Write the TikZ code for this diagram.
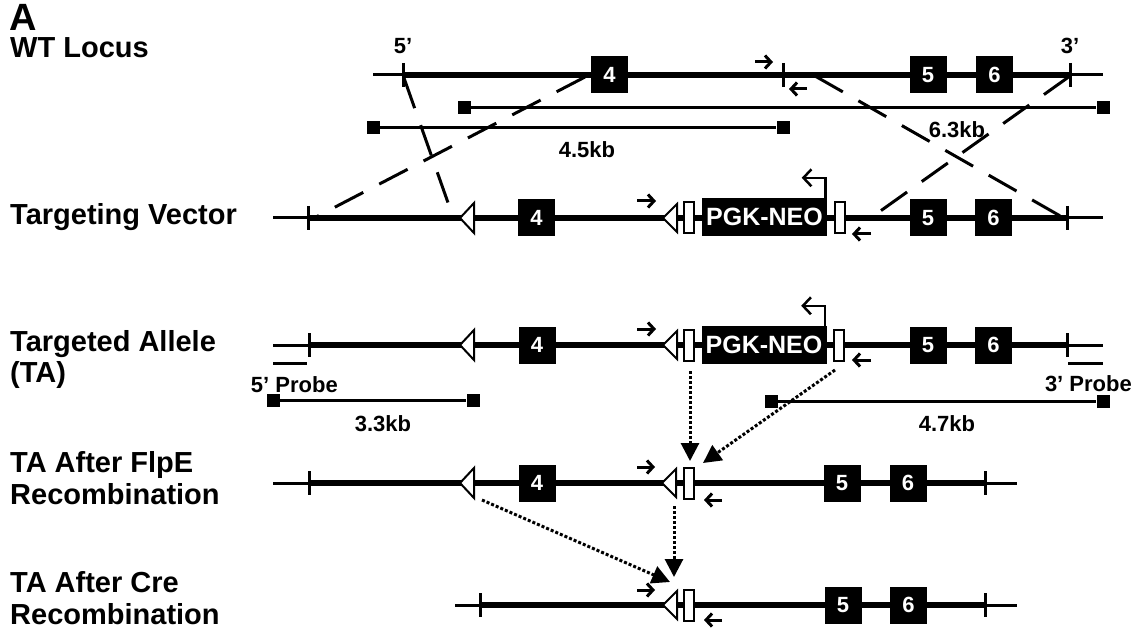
\documentclass[tikz,border=0pt]{standalone}
\usepackage{fontspec}
\setmainfont{Liberation Sans}
\usetikzlibrary{arrows.meta}
\begin{document}
\begin{tikzpicture}[x=1pt,y=-1pt,
  lbl/.style={anchor=base west,inner sep=0,font=\fontsize{29}{33}\selectfont\bfseries},
  small/.style={anchor=base,inner sep=0,font=\fontsize{22}{24}\selectfont\bfseries},
  thickdna/.style={line width=6pt},
  thindna/.style={line width=3pt},
  tickmark/.style={line width=3pt},
  exon/.style={fill=black,minimum width=37pt,minimum height=37pt,inner sep=0,text=white,font=\fontsize{22}{22}\selectfont\bfseries},
  neo/.style={fill=black,minimum width=125pt,minimum height=38pt,inner sep=0,text=white,font=\fontsize{25}{25}\selectfont\bfseries},
  frt/.style={draw,fill=white,line width=2pt,minimum width=10pt,minimum height=31pt,inner sep=0},
  lox/.style={draw,fill=white,line width=2pt,line join=miter},
  primer/.style={line width=3pt,-{Straight Barb[length=6pt,width=13pt]}},
  promoter/.style={line width=2.5pt,-{Straight Barb[length=8pt,width=17pt]}},
  sq/.style={fill=black,minimum size=13pt,inner sep=0},
  kb/.style={line width=3pt},
  probe/.style={line width=3pt},
  cross/.style={line width=3pt,dash pattern=on 32pt off 18pt},
  dotarrow/.style={line width=3pt,dash pattern=on 3pt off 2pt,-{Triangle[length=18pt,width=18pt]}},
]
\useasboundingbox (0,0) rectangle (1135,644);

% ---------- labels ----------
\node[anchor=base west,inner sep=0,font=\fontsize{38}{38}\selectfont\bfseries] (lA) at (9,31) {A};
\node[lbl] (l1) at (10,58) {WT Locus};
\node[lbl] (l2) at (10,225) {Targeting Vector};
\node[lbl] (l3a) at (10,352) {Targeted Allele};
\node[lbl] (l3b) at (10,382) {(TA)};
\node[lbl] (l4a) at (10,472) {TA After FlpE};
\node[lbl] (l4b) at (10,504) {Recombination};
\node[lbl] (l5a) at (10,592) {TA After Cre};
\node[lbl] (l5b) at (10,624) {Recombination};

% ---------- WT locus (y=75) ----------
\draw[thindna] (373,75) -- (403,75);
\draw[thickdna] (403,75) -- (1070,75);
\draw[thindna] (1070,75) -- (1103,75);
\draw[tickmark] (403,63) -- (403,87);
\draw[tickmark] (783,63) -- (783,87);
\draw[tickmark] (1070,63) -- (1070,87);
\node[small] (p5) at (403,54) {5'};
\node[small] (p3) at (1070,54) {3'};
\node[exon] (wt4) at (609.5,75) {4};
\node[exon] (wt5) at (928,75) {5};
\node[exon] (wt6) at (994.5,75) {6};
\draw[primer] (755,62) -- (773,62);
\draw[primer] (807,89) -- (789,89);

% restriction fragments
\node[sq] (f63a) at (464,108) {};
\node[sq] (f63b) at (1103,108) {};
\draw[kb] (f63a) -- (f63b);
\node[small] (t63) at (957,138) {6.3kb};
\node[sq] (f45a) at (373,128) {};
\node[sq] (f45b) at (783,128) {};
\draw[kb] (f45a) -- (f45b);
\node[small] (t45) at (587,158) {4.5kb};

% ---------- Targeting vector (y=218) ----------
\draw[thindna] (273,218) -- (308,218);
\draw[thickdna] (308,218) -- (1067,218);
\draw[thindna] (1067,218) -- (1103,218);
\draw[tickmark] (308,206) -- (308,230);
\draw[tickmark] (1067,206) -- (1067,230);
\draw[lox] (460,218) coordinate (tvL1) -- (474,203) -- (474,233) -- cycle;
\node[exon] (tv4) at (536.5,218) {4};
\draw[primer] (637,201) -- (656,201);
\draw[lox] (663,218) coordinate (tvL2) -- (677,204) -- (677,232) -- cycle;
\node[frt] (tvF1) at (689,218) {};
\node[neo] (tvneo) at (764.5,217) {PGK-NEO};
\draw[promoter] ([xshift=-1.5pt]tvneo.north east) -- ++(0,-20) -- ++(-24,0);
\node[frt] (tvF2) at (839.5,218) {};
\draw[primer] (871,234) -- (852,234);
\node[exon] (tv5) at (928,218) {5};
\node[exon] (tv6) at (993.5,218) {6};

% crossover lines
\coordinate (c1a) at (585,77);
\coordinate (c1b) at (316,217);
\coordinate (c2a) at (404,78);
\coordinate (c2b) at (452,214);
\coordinate (c3a) at (815,76);
\coordinate (c3b) at (1062,217);
\coordinate (c4a) at (1070,76);
\coordinate (c4b) at (872,217);
\draw[cross] (c1a) -- (c1b);
\draw[cross] (c2a) -- (c2b);
\draw[cross] (c3a) -- (c3b);
\draw[cross] (c4a) -- (c4b);

% ---------- Targeted allele (y=345) ----------
\draw[thindna] (273,345) -- (309,345);
\draw[thickdna] (309,345) -- (1067,345);
\draw[thindna] (1067,345) -- (1103,345);
\draw[tickmark] (309,333) -- (309,357);
\draw[tickmark] (1067,333) -- (1067,357);
\draw[lox] (460,345) coordinate (taL1) -- (474,330) -- (474,360) -- cycle;
\node[exon] (ta4) at (537,345) {4};
\draw[primer] (637,329) -- (656,329);
\draw[lox] (663,345) coordinate (taL2) -- (677,331) -- (677,359) -- cycle;
\node[frt] (taF1) at (689,345) {};
\node[neo] (taneo) at (764,345) {PGK-NEO};
\draw[promoter] ([xshift=-1.5pt]taneo.north east) -- ++(0,-20) -- ++(-24,0);
\node[frt] (taF2) at (839,345) {};
\draw[primer] (871,360) -- (852,360);
\node[exon] (ta5) at (928,345) {5};
\node[exon] (ta6) at (993.5,345) {6};

% probes
\coordinate (pr5a) at (273,363);
\coordinate (pr5b) at (307,363);
\draw[probe] (pr5a) -- (pr5b);
\node[anchor=base east,inner sep=0,font=\fontsize{22}{24}\selectfont\bfseries] (t5p) at (338,392) {5' Probe};
\coordinate (pr3a) at (1068,363);
\coordinate (pr3b) at (1103,363);
\draw[probe] (pr3a) -- (pr3b);
\node[anchor=base east,inner sep=0,font=\fontsize{22}{24}\selectfont\bfseries] (t3p) at (1132,391) {3' Probe};

\node[sq] (f33a) at (273,400) {};
\node[sq] (f33b) at (473,400) {};
\draw[kb] (f33a) -- (f33b);
\node[small] (t33) at (383,431) {3.3kb};
\node[sq] (f47a) at (771,401) {};
\node[sq] (f47b) at (1103,401) {};
\draw[kb] (f47a) -- (f47b);
\node[small] (t47) at (947,431) {4.7kb};

% ---------- After FlpE (y=483) ----------
\draw[thindna] (273,483) -- (309,483);
\draw[thickdna] (309,483) -- (985,483);
\draw[thindna] (985,483) -- (1017,483);
\draw[tickmark] (309,471) -- (309,495);
\draw[tickmark] (985,471) -- (985,495);
\draw[lox] (460,483) coordinate (flL1) -- (474,468) -- (474,498) -- cycle;
\node[exon] (fl4) at (537,483) {4};
\draw[primer] (637,467) -- (655,467);
\draw[lox] (662,483) coordinate (flL2) -- (676,469) -- (676,497) -- cycle;
\node[frt] (flF1) at (689,483) {};
\draw[primer] (722,500) -- (704,500);
\node[exon] (fl5) at (842,483) {5};
\node[exon] (fl6) at (908,483) {6};

% ---------- After Cre (y=605) ----------
\draw[thindna] (455,605) -- (480,605);
\draw[thickdna] (480,605) -- (985,605);
\draw[thindna] (985,605) -- (1017,605);
\draw[tickmark] (480,593) -- (480,617);
\draw[tickmark] (985,593) -- (985,617);
\draw[primer] (637,590) -- (655,590);
\draw[lox] (663,605) coordinate (crL2) -- (677,591) -- (677,619) -- cycle;
\node[frt] (crF1) at (689,605) {};
\draw[primer] (722,620) -- (704,620);
\node[exon] (cr5) at (843,605) {5};
\node[exon] (cr6) at (908.5,605) {6};

% ---------- recombination arrows ----------
\coordinate (d1s) at (690,371);
\coordinate (d1e) at (690,461);
\coordinate (d2s) at (835,370);
\coordinate (d2e) at (703,463);
\coordinate (d3s) at (674,506);
\coordinate (d3e) at (674,577);
\coordinate (d4s) at (482,500);
\coordinate (d4e) at (670,582);
\draw[dotarrow] (d1s) -- (d1e);
\draw[dotarrow] (d2s) -- (d2e);
\draw[dotarrow] (d3s) -- (d3e);
\draw[dotarrow] (d4s) -- (d4e);
\end{tikzpicture}
\end{document}
